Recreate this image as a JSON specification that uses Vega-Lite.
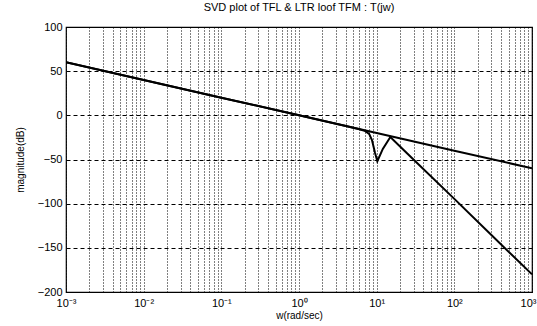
{
  "$schema": "https://vega.github.io/schema/vega-lite/v6.json",
  "width": 466,
  "height": 265,
  "autosize": {"type": "none"},
  "padding": {"left": 66, "right": 5, "top": 27, "bottom": 34},
  "background": "white",
  "title": {
    "text": "SVD plot of TFL & LTR loof TFM : T(jw)",
    "font": "Liberation Sans",
    "fontSize": 11,
    "fontWeight": "normal",
    "color": "black",
    "offset": 8
  },
  "config": {
    "view": {"stroke": "black", "strokeWidth": 1.2},
    "axis": {
      "labelFont": "Liberation Sans",
      "labelFontSize": 11,
      "labelColor": "black",
      "titleFont": "Liberation Sans",
      "titleFontSize": 10,
      "titleFontWeight": "normal",
      "titleColor": "black",
      "domain": false,
      "ticks": false,
      "gridColor": "black",
      "gridOpacity": 1
    }
  },
  "data": {
    "values": [
      {"w": 0.001, "mag": 60, "series": "sigma_max"},
      {"w": 0.01, "mag": 40, "series": "sigma_max"},
      {"w": 0.1, "mag": 20, "series": "sigma_max"},
      {"w": 1, "mag": 0, "series": "sigma_max"},
      {"w": 10, "mag": -20, "series": "sigma_max"},
      {"w": 100, "mag": -40, "series": "sigma_max"},
      {"w": 1000, "mag": -60, "series": "sigma_max"},
      {"w": 0.001, "mag": 60, "series": "sigma_min"},
      {"w": 0.01, "mag": 40, "series": "sigma_min"},
      {"w": 0.1, "mag": 20, "series": "sigma_min"},
      {"w": 1, "mag": 0, "series": "sigma_min"},
      {"w": 4, "mag": -12, "series": "sigma_min"},
      {"w": 6, "mag": -15.8, "series": "sigma_min"},
      {"w": 7, "mag": -17.5, "series": "sigma_min"},
      {"w": 8, "mag": -21, "series": "sigma_min"},
      {"w": 8.7, "mag": -28, "series": "sigma_min"},
      {"w": 9.5, "mag": -42, "series": "sigma_min"},
      {"w": 10.2, "mag": -52, "series": "sigma_min"},
      {"w": 12, "mag": -38, "series": "sigma_min"},
      {"w": 15, "mag": -24.5, "series": "sigma_min"},
      {"w": 20, "mag": -35.2, "series": "sigma_min"},
      {"w": 30, "mag": -50.2, "series": "sigma_min"},
      {"w": 100, "mag": -94.6, "series": "sigma_min"},
      {"w": 300, "mag": -135.5, "series": "sigma_min"},
      {"w": 1000, "mag": -180, "series": "sigma_min"}
    ]
  },
  "mark": {"type": "line", "strokeWidth": 2, "clip": true},
  "encoding": {
    "x": {
      "field": "w",
      "type": "quantitative",
      "scale": {"type": "log", "domain": [0.001, 1000], "nice": false},
      "axis": {
        "title": "w(rad/sec)",
        "titlePadding": 2,
        "labelPadding": 5,
        "labelOverlap": false,
        "labelFlush": false,
        "labelBound": false,
        "labelAlign": {"condition": {"test": "datum.value == 1000", "value": "right"}, "value": "center"},
        "labelOffset": {"condition": {"test": "datum.value == 1000", "value": 4}, "value": 0},
        "grid": true,
        "gridDash": [1, 2],
        "gridWidth": 1,
        "values": [0.001, 0.002, 0.003, 0.004, 0.005, 0.006, 0.007, 0.008, 0.009,
                   0.01, 0.02, 0.03, 0.04, 0.05, 0.06, 0.07, 0.08, 0.09,
                   0.1, 0.2, 0.3, 0.4, 0.5, 0.6, 0.7, 0.8, 0.9,
                   1, 2, 3, 4, 5, 6, 7, 8, 9,
                   10, 20, 30, 40, 50, 60, 70, 80, 90,
                   100, 200, 300, 400, 500, 600, 700, 800, 900, 1000],
        "labelExpr": "datum.value==0.001?'10⁻³':datum.value==0.01?'10⁻²':datum.value==0.1?'10⁻¹':datum.value==1?'10⁰':datum.value==10?'10¹':datum.value==100?'10²':datum.value==1000?'10³':''"
      }
    },
    "y": {
      "field": "mag",
      "type": "quantitative",
      "scale": {"domain": [-200, 100], "nice": false, "zero": false},
      "axis": {
        "title": "magnitude(dB)",
        "titlePadding": 12,
        "labelPadding": 4,
        "values": [-200, -150, -100, -50, 0, 50, 100],
        "grid": true,
        "gridDash": [4, 3],
        "gridWidth": 1
      }
    },
    "detail": {"field": "series"},
    "color": {"value": "black"}
  }
}
